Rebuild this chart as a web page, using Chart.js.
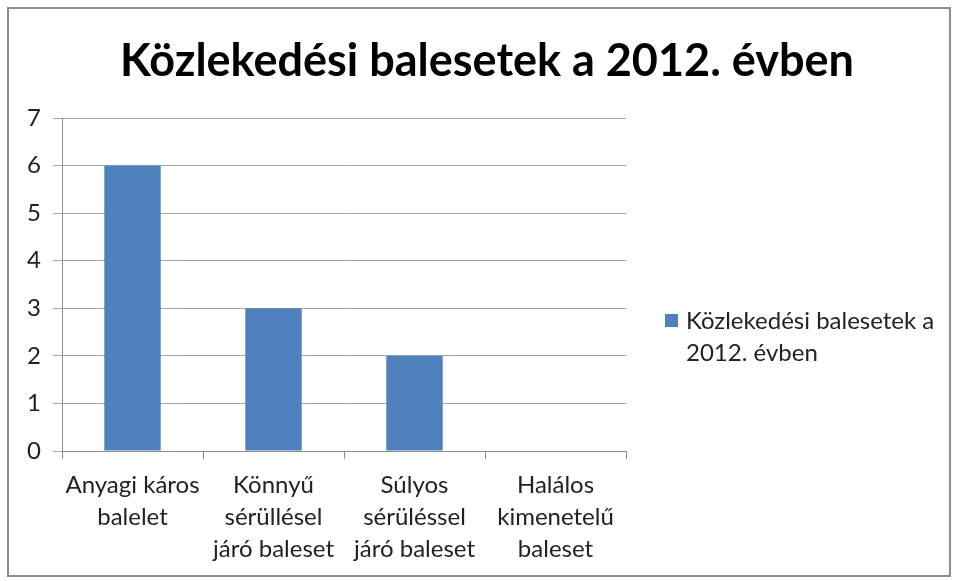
<!DOCTYPE html>
<html>
<head>
<meta charset="utf-8">
<script src="https://cdn.jsdelivr.net/npm/chart.js@4"></script>
<style>
  body { margin: 0; background: #fff; }
  #wrap { position: relative; width: 956px; height: 581px; }
  #frame { position: absolute; left: 7px; top: 7px; width: 940px; height: 566px; border: 2px solid #8c8c8c; pointer-events: none; }
</style>
</head>
<body>
<div id="wrap">
  <canvas id="barChart" width="956" height="581"></canvas>
  <div id="frame"></div>
</div>
<script>
var categories = [
    ['Anyagi káros', 'balelet'],
    ['Könnyű', 'sérüllésel', 'járó baleset'],
    ['Súlyos', 'sérüléssel', 'járó baleset'],
    ['Halálos', 'kimenetelű', 'baleset']
];
var values = [6, 3, 2, 0];
var seriesName = 'Közlekedési balesetek a 2012. évben';
var legendLines = ['Közlekedési balesetek a', '2012. évben'];
var yTicks = [0, 1, 2, 3, 4, 5, 6, 7];

var font = 'Lato';
var barColor = '#4f81bd';

// title centred on the whole picture, legend wrapped on two lines
var extras = {
    id: 'extras',
    afterDraw: function(chart) {
        var ctx = chart.ctx;
        ctx.save();
        ctx.fillStyle = '#000';
        ctx.font = 'bold 45px ' + font;
        ctx.textAlign = 'center';
        ctx.textBaseline = 'middle';
        ctx.fillText(seriesName, 487, 61);

        var x = chart.chartArea.right + 39;
        var y = 321;
        ctx.textAlign = 'left';
        ctx.fillStyle = barColor;
        ctx.fillRect(x, y - 7, 13, 13);
        ctx.fillStyle = '#222';
        ctx.font = '24px ' + font;
        legendLines.forEach(function(t, i) {
            ctx.fillText(t, x + 21, y + i * 32);
        });
        ctx.restore();
    }
};

var bar = document.getElementById('barChart');
var barChart = new Chart(bar, {
    type: 'bar',
    data: {
        labels: categories,
        datasets: [{
            label: seriesName,
            data: values,
            backgroundColor: barColor,
            categoryPercentage: 1,
            barPercentage: 0.4
        }]
    },
    options: {
        responsive: false,
        animation: false,
        layout: {
            padding: { left: 10, right: 330, top: 118, bottom: 10 }
        },
        scales: {
            x: {
                grid: {
                    drawOnChartArea: false,
                    drawTicks: true,
                    tickLength: 8,
                    color: '#8c8c8c'
                },
                border: { color: '#8c8c8c' },
                ticks: {
                    color: '#222',
                    padding: 10,
                    maxRotation: 0,
                    font: { family: font, size: 24, lineHeight: 1.33 }
                },
                afterFit: function(scale) { scale.height = 120; }
            },
            y: {
                min: 0,
                max: 7,
                afterBuildTicks: function(scale) {
                    scale.ticks = yTicks.map(function(v) { return { value: v }; });
                },
                grid: {
                    color: '#a6a6a6',
                    tickLength: 9
                },
                border: { color: '#8c8c8c' },
                ticks: {
                    color: '#222',
                    padding: 12,
                    font: { family: font, size: 24 }
                },
                afterFit: function(scale) { scale.width = 52; }
            }
        },
        plugins: {
            legend: { display: false },
            tooltip: { enabled: false },
            title: { display: false }
        }
    },
    plugins: [extras]
});
</script>
</body>
</html>
